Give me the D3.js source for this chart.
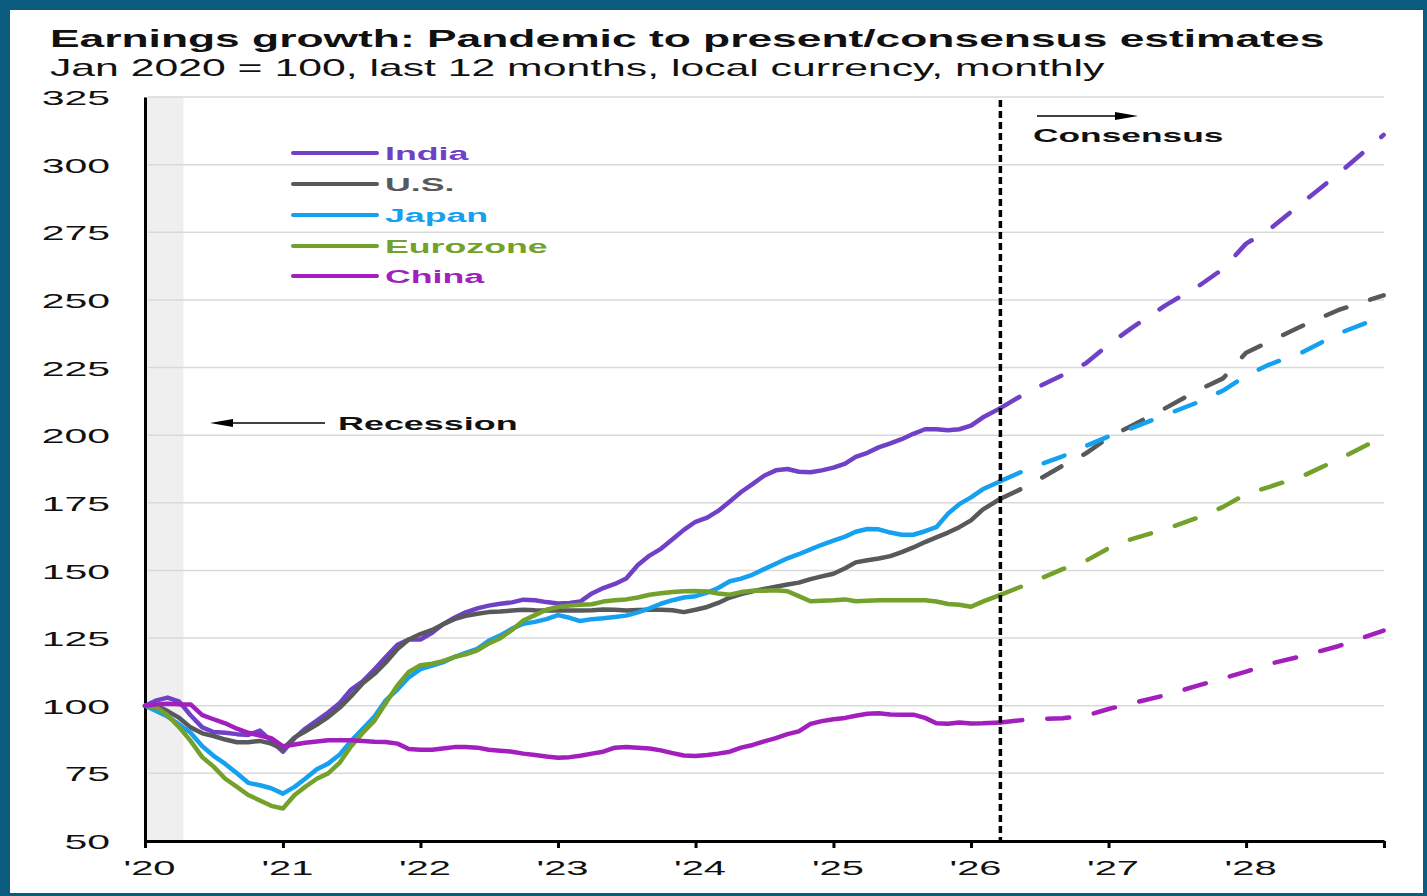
<!DOCTYPE html>
<html>
<head>
<meta charset="utf-8">
<script src="https://cdn.jsdelivr.net/npm/d3@7"></script>
<style>
  html, body { margin: 0; padding: 0; background: #0b5b7e; }
  svg { display: block; }
  text { font-family: "Liberation Sans", Arial, Helvetica, sans-serif; }
</style>
</head>
<body>
<svg id="chart" width="1427" height="896"></svg>
<script>
// ---- Data -------------------------------------------------------------
// Earnings index, Jan 2020 = 100. Monthly readings Jan 2020 – Feb 2026,
// followed by the latest reading on 20 Mar 2026.
const seriesNames = ["India", "U.S.", "Japan", "Eurozone", "China"];

const indiaActual = [
  100, 102, 103, 101.5, 96.5, 92, 90.3, 90, 89.5, 89.2, 90.8, 87,
  83, 88, 91.5, 94.5, 97.5, 101, 106, 109, 113.5, 118, 122.5, 124.5,
  124.5, 127, 130, 132.5, 134.5, 136, 137, 137.7, 138.2, 139.2, 139, 138.3,
  137.8, 138, 138.5, 141.5, 143.5, 145, 147, 152, 155.5, 158, 161.5, 165,
  168, 169.5, 172, 175.5, 179, 182, 185, 187, 187.5, 186.5, 186.3, 187,
  188, 189.5, 192, 193.5, 195.5, 197, 198.5, 200.5, 202.2, 202.2, 201.8, 202.2,
  203.5, 206.5, 210
];
const usActual = [
  100, 100, 98, 95.5, 92, 89.8, 88.8, 87.5, 86.5, 86.5, 87, 86,
  84, 88.3, 90.5, 93, 95.8, 99.3, 103.5, 108.3, 111.8, 116, 121, 124.5,
  126.5, 128, 130, 132, 133.2, 134, 134.6, 134.8, 135.2, 135.5, 135.3, 135.2,
  135.2, 135.2, 135.2, 135.3, 135.6, 135.5, 135.2, 135.4, 135.5, 135.5, 135.3, 134.6,
  135.5, 136.5, 138, 140, 141.3, 142.3, 143.2, 144, 144.8, 145.5, 146.8, 147.8,
  148.8, 150.8, 153, 153.8, 154.4, 155.3, 156.8, 158.5, 160.5, 162.2, 164, 166,
  168.5, 172.5, 176.5
];
const japanActual = [
  100, 98, 96, 93, 90, 85, 81.5, 78.5, 75, 71.5, 70.6, 69.5,
  67.5, 70, 73, 76.5, 78.6, 82, 87, 91.5, 96, 102, 106, 110.5,
  113.5, 114.8, 116, 118, 119.5, 121, 124, 126, 128.5, 130.3, 131, 132,
  133.5, 132.5, 131.3, 132, 132.3, 132.8, 133.3, 134.5, 136, 137.7, 139, 140,
  140.5, 141.8, 143.5, 146, 147, 148.5, 150.5, 152.5, 154.5, 156, 157.8, 159.5,
  161, 162.5, 164.3, 165.3, 165.2, 164, 163.2, 163.2, 164.5, 166, 171, 174.5,
  177, 180, 183
];
const eurozoneActual = [
  100, 99.3, 96.5, 92, 87, 81, 77.5, 73, 70, 67, 65, 63,
  62, 67, 70, 73, 75, 79, 85, 90, 94.5, 101, 107.5, 112.5,
  115, 115.5, 116.5, 118, 119, 120.5, 123, 125, 128, 131.5, 133.5, 135.5,
  136.5, 137, 137.3, 137.5, 138.5, 139, 139.3, 140, 141, 141.6, 142, 142.3,
  142.4, 142.2, 141.5, 141, 142, 142.5, 142.5, 142.7, 142.3, 140.5, 138.6, 138.8,
  139, 139.3, 138.6, 138.8, 139, 139, 139, 139, 139, 138.5, 137.6, 137.3,
  136.6, 138.5, 141
];
const chinaActual = [
  100, 100.5, 100.7, 100.5, 100.5, 96.5, 95, 93.5, 91.5, 90, 89, 88,
  85, 85.7, 86.3, 86.8, 87.2, 87.2, 87.2, 87, 86.7, 86.6, 86, 84,
  83.7, 83.7, 84.2, 84.7, 84.7, 84.5, 83.7, 83.4, 83, 82.3, 81.8, 81.2,
  80.8, 81, 81.5, 82.3, 83, 84.5, 84.7, 84.5, 84.2, 83.5, 82.5, 81.6,
  81.4, 81.8, 82.3, 83, 84.5, 85.5, 86.8, 88, 89.5, 90.5, 93.3, 94.3,
  95, 95.5, 96.3, 97, 97.2, 96.8, 96.7, 96.7, 95.5, 93.5, 93.3, 93.8,
  93.4, 93.5, 93.8
];

// Consensus estimates from the latest reading to the end of 2028
const consensusDates = [
  "2026-03-20", "2026-06-01", "2026-09-01", "2026-11-01", "2027-01-01",
  "2027-03-01", "2027-06-01", "2027-09-01", "2027-11-01", "2028-01-01",
  "2028-03-01", "2028-06-01", "2028-09-01", "2028-12-31"
];
const indiaConsensus    = [210, 216, 222.2, 226.5, 233.5, 239.4, 248, 255.5, 261.5, 270.8, 275.8, 286.3, 296.5, 311];
const usConsensus       = [176.5, 181.3, 188.7, 193.2, 199.1, 203.3, 210, 217, 221, 230.5, 234.5, 240.6, 246.2, 251.7];
const japanConsensus    = [183, 187.5, 192.2, 196, 199.5, 202.5, 207.5, 212.5, 216.5, 222, 226, 230.8, 237.5, 244];
const eurozoneConsensus = [141, 145, 150.5, 153.5, 158.2, 161.5, 165.3, 169.8, 173.5, 178.2, 180.8, 185, 191, 199.5];
const chinaConsensus    = [93.8, 94.9, 95.4, 96.3, 98.8, 100.8, 103.9, 107.7, 110.1, 112.6, 115.4, 118.5, 122, 127.8];

const yTicks = [50, 75, 100, 125, 150, 175, 200, 225, 250, 275, 300, 325];
const xTickYears = [2020, 2021, 2022, 2023, 2024, 2025, 2026, 2027, 2028, 2029];
const xTickLabels = ["'20", "'21", "'22", "'23", "'24", "'25", "'26", "'27", "'28", ""];
const recession = ["2020-01-01", "2020-04-12"];
const latestReading = "2026-03-20";

// ---- Setup ------------------------------------------------------------
const parse = d3.timeParse("%Y-%m-%d");
const colors = ["#7041c6", "#58595b", "#16a0f0", "#73a12b", "#a21fbe"];

const monthly = d3.timeMonth.range(new Date(2020, 0, 1), new Date(2026, 2, 1));
const actualDates = monthly.concat([parse(latestReading)]);
const consDates = consensusDates.map(parse);

const actualValues = [indiaActual, usActual, japanActual, eurozoneActual, chinaActual];
const consensusValues = [indiaConsensus, usConsensus, japanConsensus, eurozoneConsensus, chinaConsensus];

const svg = d3.select("#chart");
const W = 1427, H = 896;

// Teal frame around a white panel
svg.append("rect").attr("width", W).attr("height", H).attr("fill", "#0b5b7e");
svg.append("rect").attr("x", 10).attr("y", 10).attr("width", 1413).attr("height", H - 13).attr("fill", "#ffffff");

const plot = { left: 145, right: 1384, top: 97, bottom: 841 };

const x = d3.scaleTime()
  .domain([new Date(2020, 0, 1), new Date(2029, 0, 1)])
  .range([plot.left, plot.right]);
const y = d3.scaleLinear()
  .domain([50, 325])
  .range([plot.bottom, plot.top]);

// Text drawn with a horizontal stretch
function stretchedText(parent, str, px, py, o) {
  const t = parent.append("text")
    .attr("font-size", o.size)
    .attr("font-weight", o.weight || "normal")
    .attr("fill", o.fill || "#000")
    .attr("text-anchor", o.anchor || "start")
    .text(str);
  let sx = o.sx || 1;
  if (o.width) sx = o.width / t.node().getComputedTextLength();
  t.attr("transform", `translate(${px},${py}) scale(${sx},1)`);
  return t;
}

// ---- Titles -----------------------------------------------------------
stretchedText(svg, "Earnings growth: Pandemic to present/consensus estimates", 50, 47,
  { size: 24, weight: "bold", width: 1275, fill: "#111" });
stretchedText(svg, "Jan 2020 = 100, last 12 months, local currency, monthly", 50, 76,
  { size: 23, width: 1055, fill: "#111" });

// ---- Recession shading & grid ----------------------------------------
svg.append("rect")
  .attr("x", x(parse(recession[0])))
  .attr("y", plot.top)
  .attr("width", x(parse(recession[1])) - x(parse(recession[0])))
  .attr("height", plot.bottom - plot.top)
  .attr("fill", "#efefef");

svg.append("g").selectAll("line")
  .data(yTicks.filter(v => v > 50))
  .join("line")
  .attr("x1", plot.left + 3).attr("x2", plot.right)
  .attr("y1", d => y(d)).attr("y2", d => y(d))
  .attr("stroke", "#d9d9d9").attr("stroke-width", 1.5);

// ---- Axes -------------------------------------------------------------
const xAxis = d3.axisBottom(x)
  .tickValues(xTickYears.map(yr => new Date(yr, 0, 1)))
  .tickFormat((d, i) => xTickLabels[i])
  .tickSize(7).tickSizeOuter(0).tickPadding(12);
const gx = svg.append("g").attr("transform", `translate(0,${plot.bottom})`).call(xAxis);
gx.select(".domain").attr("stroke", "#000").attr("stroke-width", 3);
gx.selectAll(".tick line").attr("stroke", "#000").attr("stroke-width", 3);
gx.selectAll(".tick text")
  .attr("font-size", 21).attr("fill", "#111")
  .attr("font-family", "\"Liberation Sans\", Arial, sans-serif")
  .attr("y", null).attr("dy", null)
  .attr("transform", "translate(4,34) scale(1.9,1)");

const yAxis = d3.axisLeft(y).tickValues(yTicks).tickSize(0).tickSizeOuter(0);
const gy = svg.append("g").attr("transform", `translate(${plot.left},0)`).call(yAxis);
gy.select(".domain").attr("stroke", "#000").attr("stroke-width", 3);
gy.selectAll(".tick text")
  .attr("font-size", 21).attr("fill", "#111")
  .attr("font-family", "\"Liberation Sans\", Arial, sans-serif")
  .attr("x", null).attr("dy", "0.36em")
  .attr("transform", "translate(-35,0) scale(1.95,1)");

// ---- Lines ------------------------------------------------------------
const line = d3.line().x(d => x(d.date)).y(d => y(d.v));

const linesG = svg.append("g").attr("fill", "none")
  .attr("stroke-linejoin", "round").attr("stroke-linecap", "round");

seriesNames.forEach((name, i) => {
  const act = actualValues[i].map((v, k) => ({ date: actualDates[k], v }));
  const con = consensusValues[i].map((v, k) => ({ date: consDates[k], v }));
  linesG.append("path").datum(act)
    .attr("d", line).attr("stroke", colors[i]).attr("stroke-width", 4.5);
  linesG.append("path").datum(con)
    .attr("d", line).attr("stroke", colors[i]).attr("stroke-width", 4.5)
    .attr("stroke-dasharray", "22,25");
});

// Consensus divider
const xLatest = x(parse(latestReading));
svg.append("line")
  .attr("x1", xLatest).attr("x2", xLatest)
  .attr("y1", 100).attr("y2", plot.bottom)
  .attr("stroke", "#000").attr("stroke-width", 3.5)
  .attr("stroke-dasharray", "7,4");

// ---- Annotations ------------------------------------------------------
function arrow(x1, x2, yy, dir) {
  const g = svg.append("g");
  const tip = dir < 0 ? Math.min(x1, x2) : Math.max(x1, x2);
  const tail = dir < 0 ? Math.max(x1, x2) : Math.min(x1, x2);
  const back = tip - dir * 23;
  g.append("line").attr("x1", tail).attr("x2", back).attr("y1", yy).attr("y2", yy)
    .attr("stroke", "#000").attr("stroke-width", 1.5);
  g.append("path")
    .attr("d", `M${tip},${yy} L${back},${yy - 4} L${back},${yy + 4} Z`)
    .attr("fill", "#000");
}
arrow(210, 325, 423, -1);
stretchedText(svg, "Recession", 338, 430, { size: 19, weight: "bold", sx: 1.89, fill: "#111" });
arrow(1037, 1138, 116, 1);
stretchedText(svg, "Consensus", 1033, 142, { size: 19, weight: "bold", sx: 1.86, fill: "#111" });

// ---- Legend -----------------------------------------------------------
const legendRows = [153, 184, 215, 246, 276];
seriesNames.forEach((name, i) => {
  svg.append("line")
    .attr("x1", 293).attr("x2", 377)
    .attr("y1", legendRows[i]).attr("y2", legendRows[i])
    .attr("stroke", colors[i]).attr("stroke-width", 4).attr("stroke-linecap", "round");
  stretchedText(svg, name, 385, legendRows[i] + 7,
    { size: 19, weight: "bold", sx: 1.88, fill: colors[i] });
});
</script>
</body>
</html>
